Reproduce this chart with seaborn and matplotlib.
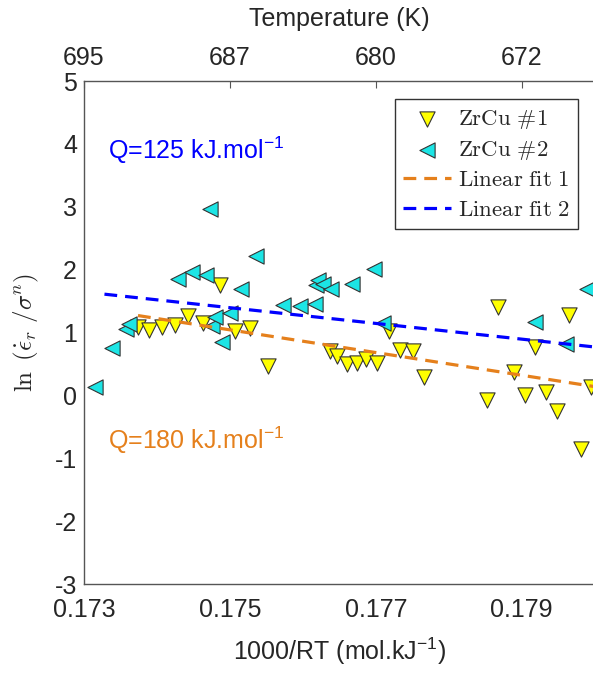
import matplotlib
matplotlib.use("Agg")
import matplotlib.pyplot as plt
from matplotlib.font_manager import FontProperties
import pandas as pd
import seaborn as sns

# ZrCu #1 (down triangles)
zrcu1_x = [0.17374, 0.17389, 0.17407, 0.17425, 0.17443, 0.17463, 0.17486, 0.17507,
           0.17527, 0.17552, 0.17637, 0.17647, 0.17660, 0.17674, 0.17687, 0.17702,
           0.17718, 0.17733, 0.17751, 0.17766, 0.17852, 0.17868, 0.17889, 0.17904,
           0.17918, 0.17933, 0.17948, 0.17965, 0.17982, 0.17995]
zrcu1_y = [1.09, 1.04, 1.09, 1.12, 1.26, 1.15, 1.75, 1.03,
           1.07, 0.46, 0.70, 0.63, 0.50, 0.52, 0.58, 0.52,
           1.03, 0.73, 0.71, 0.30, -0.08, 1.41, 0.38, 0.01,
           0.77, 0.06, -0.25, 1.28, -0.86, 0.14]

# ZrCu #2 (left triangles)
zrcu2_x = [0.17315, 0.17339, 0.17358, 0.17362, 0.17429, 0.17448, 0.17467, 0.17473,
           0.17476, 0.17479, 0.17489, 0.17500, 0.17515, 0.17536, 0.17573, 0.17596,
           0.17616, 0.17618, 0.17621, 0.17627, 0.17639, 0.17667, 0.17697, 0.17710,
           0.17918, 0.17961, 0.17989]
zrcu2_y = [0.14, 0.76, 1.05, 1.14, 1.85, 1.97, 1.92, 2.96,
           1.10, 1.25, 0.85, 1.31, 1.69, 2.22, 1.44, 1.42,
           1.46, 1.76, 1.84, 1.77, 1.69, 1.77, 2.01, 1.15,
           1.17, 0.81, 1.70]

# linear fits (end points)
fit1_x = [0.17374, 0.1800]
fit1_y = [1.27, 0.14]
fit2_x = [0.17328, 0.1800]
fit2_y = [1.61, 0.77]

x_ticks = [0.173, 0.175, 0.177, 0.179]
x_tick_labels = ["0.173", "0.175", "0.177", "0.179"]
temp_labels = ["695", "687", "680", "672"]
y_ticks = [-3, -2, -1, 0, 1, 2, 3, 4, 5]

sns.set_theme(style="white")
plt.rcParams["font.family"] = ["Liberation Sans", "DejaVu Sans"]
plt.rcParams["mathtext.fontset"] = "custom"
plt.rcParams["mathtext.rm"] = "Liberation Sans"
plt.rcParams["mathtext.it"] = "Liberation Sans:italic"

axis_col = "#555555"
text_col = "#262626"
yellow = "#FFFF00"
cyan = "#1CE5E5"
orange = "#E5801C"
blue = "#0000FF"

fig = plt.figure(figsize=(5.93, 6.73), dpi=100)
ax = fig.add_axes([0.1417, 0.1322, 0.861, 0.7474])

df1 = pd.DataFrame({"x": zrcu1_x, "y": zrcu1_y})
df2 = pd.DataFrame({"x": zrcu2_x, "y": zrcu2_y})

sns.scatterplot(data=df1, x="x", y="y", ax=ax, marker="v", s=120, color=yellow,
                edgecolor="#333333", linewidth=0.8, label=r"$\mathrm{ZrCu\ \#1}$", zorder=3)
sns.scatterplot(data=df2, x="x", y="y", ax=ax, marker="<", s=120, color=cyan,
                edgecolor="#333333", linewidth=0.8, label=r"$\mathrm{ZrCu\ \#2}$", zorder=3)
sns.lineplot(x=fit1_x, y=fit1_y, ax=ax, color=orange, linewidth=2.3,
             linestyle=(0, (4, 2.5)), label=r"$\mathrm{Linear\ fit\ 1}$", zorder=4)
sns.lineplot(x=fit2_x, y=fit2_y, ax=ax, color=blue, linewidth=2.3,
             linestyle=(0, (4, 2.5)), label=r"$\mathrm{Linear\ fit\ 2}$", zorder=4)

ax.text(0.17333, 3.9, r"Q=125 kJ.mol$^{-1}$", color=blue, fontsize=18, va="center")
ax.text(0.17333, -0.71, r"Q=180 kJ.mol$^{-1}$", color=orange, fontsize=18, va="center")

ax.set_xlim(0.173, 0.180)
ax.set_ylim(-3, 5)
ax.set_xticks(x_ticks)
ax.set_xticklabels(x_tick_labels)
ax.set_yticks(y_ticks)
ax.set_yticklabels([str(v) for v in y_ticks])
ax.tick_params(axis="both", direction="in", length=5, width=0.8, color=axis_col,
               labelsize=18, labelcolor=text_col)
ax.tick_params(axis="x", pad=10)
ax.tick_params(axis="y", pad=5)
for sp in ax.spines.values():
    sp.set_color(axis_col)
    sp.set_linewidth(1.0)

ax.set_xlabel(r"1000/RT (mol.kJ$^{-1}$)", fontsize=18, color=text_col, labelpad=10)
ax.set_ylabel(r"$\ln\ (\dot{\epsilon}_r\ /\sigma^n)$", fontsize=18, color=text_col,
              labelpad=10, math_fontfamily="cm")

top = ax.secondary_xaxis("top")
top.set_xticks(x_ticks)
top.set_xticklabels(temp_labels)
top.tick_params(direction="in", length=5, width=0.8, color=axis_col,
                labelsize=18, labelcolor=text_col, pad=8)
top.spines["top"].set_visible(False)
top.set_xlabel("Temperature (K)", fontsize=18, color=text_col, labelpad=14)

leg = ax.legend(loc="upper right", bbox_to_anchor=(0.967, 0.965),
                prop=FontProperties(size=16.5, math_fontfamily="cm"),
                frameon=True, fancybox=False, edgecolor="#333333", framealpha=1,
                handlelength=2.1, labelspacing=0.3, borderpad=0.35,
                handletextpad=0.3, borderaxespad=0)
leg.get_frame().set_linewidth(1.0)

fig.savefig("out.png", dpi=100)
